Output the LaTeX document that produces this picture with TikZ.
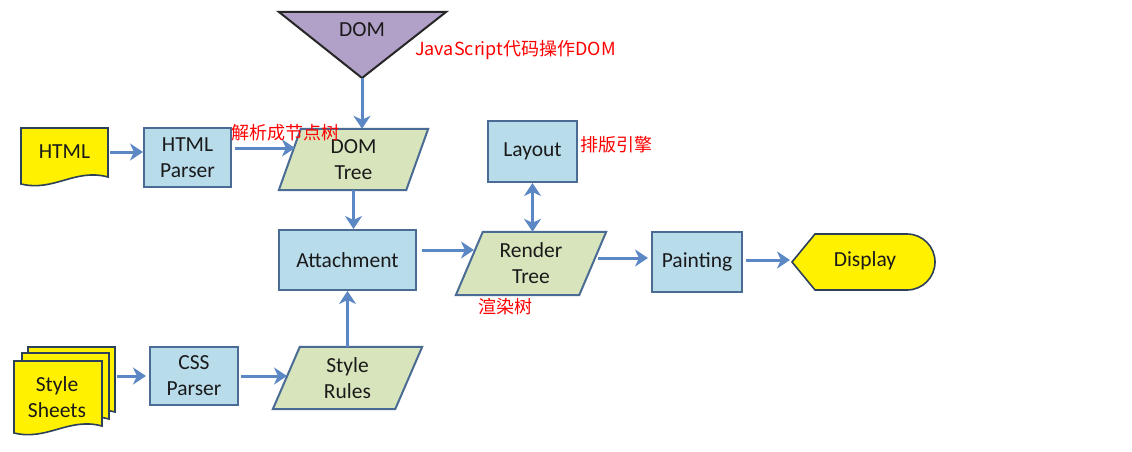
\documentclass[tikz,border=0pt]{standalone}
\usepackage{fontspec}
\setmainfont{Carlito}
\newfontfamily\cjk{Noto Sans CJK SC}
\usetikzlibrary{arrows.meta,backgrounds}
\definecolor{boxblue}{HTML}{B9DCEB}
\definecolor{boxedge}{HTML}{4A6C94}
\definecolor{paragreen}{HTML}{D8E4BC}
\definecolor{docyellow}{HTML}{FFF100}
\definecolor{dompurple}{HTML}{B1A0C7}
\definecolor{arrowblue}{HTML}{5B87C5}
\definecolor{txt}{HTML}{1A1A1A}
\definecolor{redlbl}{HTML}{FF0000}
\tikzset{
  lbl/.style={text=txt,font=\fontsize{21.5}{26}\selectfont,align=center,inner sep=0pt},
  procbox/.style={lbl,draw=boxedge,line width=2pt,fill=boxblue},
  paraout/.style={draw=boxedge,line width=2pt,fill=paragreen},
  docout/.style={draw=boxedge!60!black,line width=1.6pt,fill=docyellow},
  arr/.style={draw=arrowblue,line width=3pt,-{Stealth[length=13pt,width=17pt,inset=4pt]}},
  darr/.style={draw=arrowblue,line width=3pt,{Stealth[length=13pt,width=17pt,inset=4pt]}-{Stealth[length=13pt,width=17pt,inset=4pt]}},
  note/.style={text=redlbl,font=\cjk\fontsize{18}{22}\selectfont,inner sep=0pt,anchor=west}
}
\newcommand\docpath[4]{% x1 y1 x2 ybottom
  (#1,#2) -- (#3,#2) -- (#3,{#4-8}) .. controls ({#1+0.62*(#3-#1)},{#4-17}) and ({#1+0.38*(#3-#1)},{#4+7}) .. (#1,{#4-1}) -- cycle}
\begin{document}
\begin{tikzpicture}[x=1pt,y=-1pt]
\useasboundingbox (0,0) rectangle (1132,452);

% text nodes
\node[lbl] (dom) at (362,30) {DOM};
\coordinate (domtip) at (362,78);
\node[lbl,minimum width=87pt] (html) at (64.5,152) {HTML};
\node[procbox,minimum width=87pt,minimum height=59pt] (hparser) at (187.5,157.5) {HTML\\Parser};
\node[lbl,minimum width=149pt,minimum height=61pt] (domtree) at (353.5,159.5) {DOM\\Tree};
\node[procbox,minimum width=137pt,minimum height=60pt] (attach) at (347.5,260) {Attachment};
\node[procbox,minimum width=89pt,minimum height=61pt] (layout) at (532.5,151.5) {Layout};
\node[lbl,minimum width=150pt,minimum height=63pt] (rtree) at (531,263.5) {Render\\Tree};
\node[procbox,minimum width=90pt,minimum height=60pt] (paint) at (697,262) {Painting};
\node[lbl] (display) at (865,261) {Display};
\coordinate (dispin) at (790,262);
\node[lbl] (sheets) at (57,397) {Style\\Sheets};
\node[procbox,minimum width=88pt,minimum height=58pt] (cssp) at (194,376) {CSS\\Parser};
\node[lbl,minimum width=149pt,minimum height=62pt] (srules) at (347.5,378) {Style\\Rules};

% red notes
\node[note] (n1) at (415,50) {JavaScript代码操作DOM};
\node[note] (n2) at (231,133) {解析成节点树};
\node[note] (n3) at (580,145) {排版引擎};
\node[note] (n4) at (478,307) {渲染树};

\begin{scope}[on background layer]
  \fill[white] (0,0) rectangle (1132,452);
  % DOM triangle
  \draw[draw=black!85,line width=2pt,fill=dompurple,line join=miter] (279,12) -- (446,12) -- (domtip) -- cycle;
  % HTML doc
  \draw[docout] \docpath{21}{128}{108}{185};
  % Style sheets stack
  \draw[docout] \docpath{28}{347}{115}{420};
  \draw[docout] \docpath{22}{353}{109}{427};
  \draw[docout] \docpath{14}{361}{102}{434};
  % parallelograms
  \draw[paraout] ([xshift=22pt]domtree.north west) -- (domtree.north east) -- ([xshift=-22pt]domtree.south east) -- (domtree.south west) -- cycle;
  \draw[paraout] ([xshift=27pt]rtree.north west) -- (rtree.north east) -- ([xshift=-27pt]rtree.south east) -- (rtree.south west) -- cycle;
  \draw[paraout] ([xshift=27pt]srules.north west) -- (srules.north east) -- ([xshift=-27pt]srules.south east) -- (srules.south west) -- cycle;
  % Display
  \draw[docout] (792,262) -- (815,234) -- (907,234) arc[start angle=90,end angle=-90,radius=28pt] -- (815,290) -- cycle;
\end{scope}

% connector end points on slanted edges
\coordinate (dtin) at (295,148);
\coordinate (rtin) at (474,250);
\coordinate (rtout) at (598,258);
\coordinate (srin) at (287,376);
\coordinate (sheetsout) at (117,376);

% connectors
\draw[arr] (domtip) -- (domtip |- domtree.north);
\draw[arr,shorten <=2pt] (html.east) -- (html.east -| hparser.west);
\draw[arr,shorten <=3pt] ([yshift=9.5pt]hparser.east) -- (dtin);
\draw[arr] (domtree.south) -- (domtree.south |- attach.north);
\draw[arr] (srules.north) -- (srules.north |- attach.south);
\draw[arr,shorten <=5pt] ([yshift=10pt]attach.east) -- (rtin);
\draw[darr] (layout.south) -- (layout.south |- rtree.north);
\draw[arr,shorten >=3pt] (rtout) -- (rtout -| paint.west);
\draw[arr,shorten <=3pt] ([yshift=2pt]paint.east) -- ([yshift=2pt]paint.east -| dispin);
\draw[arr,shorten >=3pt] (sheetsout) -- (cssp.west);
\draw[arr,shorten <=2pt] (cssp.east) -- (srin);
\end{tikzpicture}
\end{document}
